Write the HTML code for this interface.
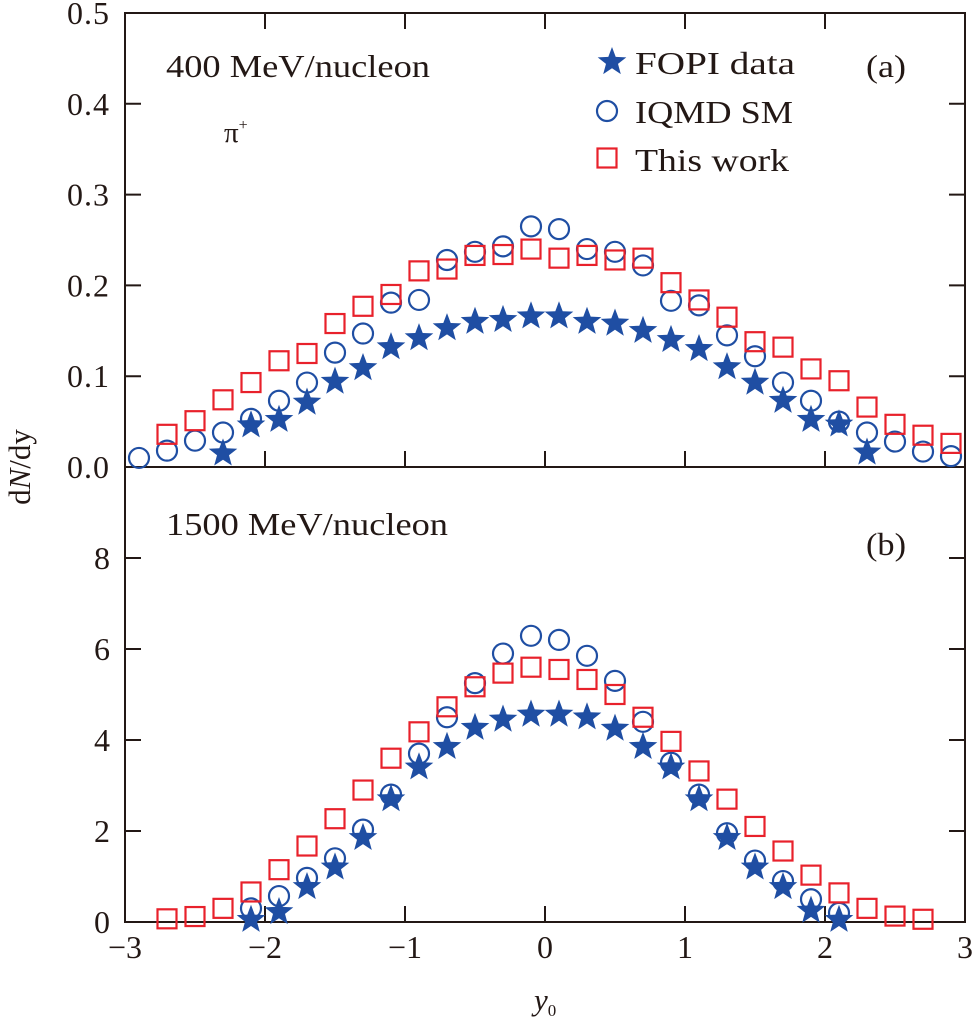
<!DOCTYPE html>
<html><head><meta charset="utf-8"><style>
body{margin:0;background:#fff;}
svg text{font-family:"Liberation Serif",serif;fill:#231815;}
</style></head><body>
<svg id="c" width="973" height="1023" viewBox="0 0 973 1023" xmlns="http://www.w3.org/2000/svg"></svg>
<script>
const xs=[-2.9,-2.7,-2.5,-2.3,-2.1,-1.9,-1.7,-1.5,-1.3,-1.1,-0.9,-0.7,-0.5,-0.3,-0.1,0.1,0.3,0.5,0.7,0.9,1.1,1.3,1.5,1.7,1.9,2.1,2.3,2.5,2.7,2.9];
const topStarX=[-2.3,-2.1,-1.9,-1.7,-1.5,-1.3,-1.1,-0.9,-0.7,-0.5,-0.3,-0.1,0.1,0.3,0.5,0.7,0.9,1.1,1.3,1.5,1.7,1.9,2.1,2.3];
const topStar=[0.015,0.046,0.052,0.071,0.094,0.109,0.132,0.142,0.153,0.160,0.162,0.166,0.166,0.160,0.158,0.150,0.140,0.130,0.110,0.093,0.073,0.052,0.047,0.016];
const topCircle=[0.010,0.018,0.029,0.038,0.053,0.073,0.093,0.126,0.147,0.181,0.184,0.228,0.237,0.243,0.265,0.262,0.240,0.237,0.222,0.183,0.178,0.145,0.122,0.093,0.073,0.050,0.038,0.028,0.017,0.012];
const topSquareX=xs.slice(1);
const topSquare=[0.036,0.051,0.074,0.093,0.117,0.125,0.158,0.177,0.190,0.216,0.218,0.233,0.234,0.240,0.230,0.233,0.228,0.230,0.203,0.184,0.165,0.138,0.132,0.108,0.095,0.066,0.047,0.035,0.026];
const botStarX=[-2.1,-1.9,-1.7,-1.5,-1.3,-1.1,-0.9,-0.7,-0.5,-0.3,-0.1,0.1,0.3,0.5,0.7,0.9,1.1,1.3,1.5,1.7,1.9,2.1];
const botStar=[0.05,0.22,0.77,1.2,1.85,2.7,3.4,3.85,4.27,4.45,4.56,4.56,4.5,4.25,3.85,3.4,2.7,1.85,1.2,0.77,0.25,0.05];
const botCircleX=botStarX;
const botCircle=[0.3,0.57,0.97,1.4,2.03,2.8,3.7,4.5,5.25,5.9,6.29,6.2,5.85,5.3,4.4,3.5,2.8,1.95,1.35,0.9,0.5,0.2];
const botSquareX=[-2.7,-2.5,-2.3,-2.1,-1.9,-1.7,-1.5,-1.3,-1.1,-0.9,-0.7,-0.5,-0.3,-0.1,0.1,0.3,0.5,0.7,0.9,1.1,1.3,1.5,1.7,1.9,2.1,2.3,2.5,2.7];
const botSquare=[0.07,0.12,0.3,0.66,1.15,1.67,2.27,2.9,3.6,4.18,4.73,5.17,5.47,5.6,5.55,5.33,5.0,4.5,3.97,3.32,2.7,2.1,1.56,1.03,0.64,0.3,0.13,0.06];
const xTicks=[-3,-2,-1,0,1,2,3];
const xTickLabels=["\u22123","\u22122","\u22121","0","1","2","3"];
const topTicks=[0,0.1,0.2,0.3,0.4,0.5];
const topTickLabels=["0.0","0.1","0.2","0.3","0.4","0.5"];
const botTicks=[0,2,4,6,8];
const botTickLabels=["0","2","4","6","8"];

const NS="http://www.w3.org/2000/svg";
const svg=document.getElementById('c');
const BLUE="#1f4ea3",RED="#e8212b",INK="#231815";
const L=125,R=965,T=13,M=467,B=922;
const X=v=>L+(v+3)/6*(R-L);
const YT=v=>M-v/0.5*(M-T);
const YB=v=>B-v/10*(B-M);
function mk(tag,attrs,parent){const e=document.createElementNS(NS,tag);for(const k in attrs)e.setAttribute(k,attrs[k]);(parent||svg).appendChild(e);return e;}
function starPts(cx,cy,ro,ri){let p=[];for(let i=0;i<10;i++){const r=i%2?ri:ro;const a=-Math.PI/2+i*Math.PI/5;p.push((cx+r*Math.cos(a)).toFixed(1)+","+(cy+r*Math.sin(a)).toFixed(1));}return p.join(" ");}
function star(cx,cy,name,s){const e=mk('polygon',{points:starPts(cx,cy,s||15,(s||15)*0.42),fill:BLUE});return e;}
function circ(cx,cy,name){const e=mk('circle',{cx:cx,cy:cy,r:10,fill:'none',stroke:BLUE,'stroke-width':2.2});return e;}
function sq(cx,cy,name){const e=mk('rect',{x:cx-9.5,y:cy-9.5,width:19,height:19,fill:'none',stroke:RED,'stroke-width':2.2});return e;}
function txt(x,y,s,name,attrs){const e=mk('text',Object.assign({x:x,y:y},attrs||{}));e.textContent=s;return e;}

const fr=mk('path',{d:`M${L},${T}H${R}V${B}H${L}Z M${L},${M}H${R}`,fill:'none',stroke:INK,'stroke-width':2});

const tk=16;
let d="";
xTicks.forEach(v=>{const x=X(v);d+=`M${x},${T}v${tk}M${x},${M}v${-tk}M${x},${B}v${-tk}`;});
topTicks.forEach(v=>{const y=YT(v);d+=`M${L},${y}h${tk}M${R},${y}h${-tk}`;});
botTicks.forEach(v=>{const y=YB(v);d+=`M${L},${y}h${tk}M${R},${y}h${-tk}`;});
const tp=mk('path',{d:d,stroke:INK,'stroke-width':2,fill:'none'});


xTicks.forEach((v,i)=>txt(X(v),B+36,xTickLabels[i],'x-tick-label',{'font-size':32,'text-anchor':'middle'}));
topTicks.forEach((v,i)=>txt(110,YT(v)+11,topTickLabels[i],'y-tick-label-top',{'font-size':32,'text-anchor':'end','letter-spacing':1}));
botTicks.forEach((v,i)=>txt(110,YB(v)+11,botTickLabels[i],'y-tick-label-bottom',{'font-size':32,'text-anchor':'end'}));

topCircle.forEach((v,i)=>circ(X(xs[i]),YT(v),'iqmd-point-top'));
topSquare.forEach((v,i)=>sq(X(topSquareX[i]),YT(v),'this-work-point-top'));
topStar.forEach((v,i)=>star(X(topStarX[i]),YT(v),'fopi-point-top'));
botStar.forEach((v,i)=>star(X(botStarX[i]),YB(v),'fopi-point-bottom'));
botCircle.forEach((v,i)=>circ(X(botCircleX[i]),YB(v),'iqmd-point-bottom'));
botSquare.forEach((v,i)=>sq(X(botSquareX[i]),YB(v),'this-work-point-bottom'));

txt(166,77,'400 MeV/nucleon','panel-a-energy',{'font-size':32,textLength:264,lengthAdjust:'spacingAndGlyphs'});
txt(166,535,'1500 MeV/nucleon','panel-b-energy',{'font-size':32,textLength:282,lengthAdjust:'spacingAndGlyphs'});
const pi=txt(224,142,'\u03c0','pion-label',{'font-size':29});
const ps=mk('tspan',{dy:-12,'font-size':16});ps.textContent='+';pi.appendChild(ps);
txt(866,77,'(a)','panel-a-label',{'font-size':32,textLength:40,lengthAdjust:'spacingAndGlyphs'});
txt(866,555,'(b)','panel-b-label',{'font-size':32,textLength:40,lengthAdjust:'spacingAndGlyphs'});
star(612,62,'legend-star',15);
txt(635,74,'FOPI data','legend-fopi',{'font-size':32,textLength:160,lengthAdjust:'spacingAndGlyphs'});
circ(607,111,'legend-circle');
txt(635,123,'IQMD SM','legend-iqmd',{'font-size':32,textLength:158,lengthAdjust:'spacingAndGlyphs'});
sq(607,158,'legend-square');
txt(635,171,'This work','legend-this-work',{'font-size':32,textLength:154,lengthAdjust:'spacingAndGlyphs'});
const yl=txt(0,0,'','y-axis-title',{'font-size':31,'text-anchor':'middle',transform:'translate(30,467) rotate(-90)'});
const t1=mk('tspan',{},yl);t1.textContent='d';
const t2=mk('tspan',{'font-style':'italic'},yl);t2.textContent='N';
const t3=mk('tspan',{},yl);t3.textContent='/dy';
const xl=txt(534,1010,'y','x-axis-title',{'font-size':31,'font-style':'italic'});
const xs0=mk('tspan',{dy:6,'font-size':17,'font-style':'normal'},xl);xs0.textContent='0';
</script>
</body></html>
